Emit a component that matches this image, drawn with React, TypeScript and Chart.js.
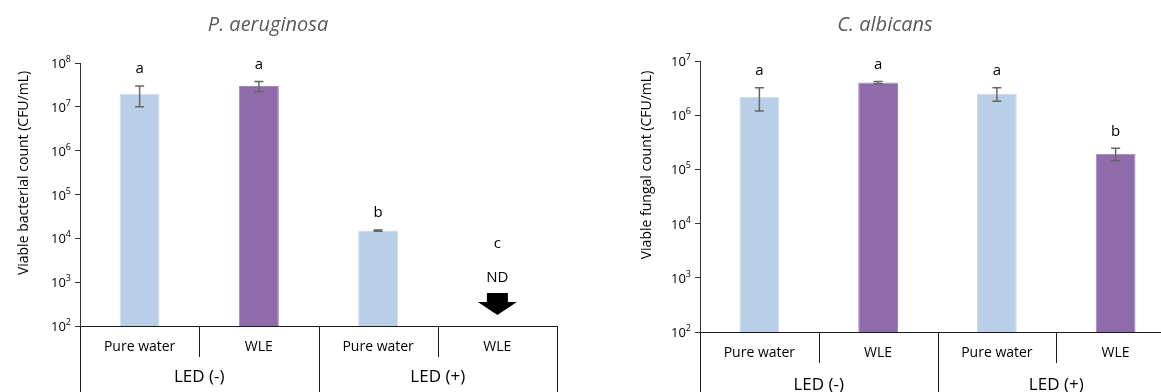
import { useEffect, useRef } from "react";
import { Chart, registerables } from "chart.js";

Chart.register(...registerables);

// Shared categories: two treatments under two LED conditions
const categories = ["Pure water", "WLE", "Pure water", "WLE"];
const groupLabels = ["LED (-)", "LED (+)"];
const barColors = ["#B9CFE7", "#8F6BAB", "#B9CFE7", "#8F6BAB"];
const barEdges = ["#CCDCEE", "#A287BB", "#CCDCEE", "#A287BB"];

// P. aeruginosa (CFU/mL); null = not detected
const bacteriaMeans = [2.0e7, 3.0e7, 1.5e4, null];
const bacteriaSD = [1.0e7, 0.8e7, 0.04e4, null];
const bacteriaLetters = ["a", "a", "b", "c"];
const bacteriaTicks = [1e2, 1e3, 1e4, 1e5, 1e6, 1e7, 1e8];

// C. albicans (CFU/mL)
const fungiMeans = [2.2e6, 4.0e6, 2.5e6, 1.95e5];
const fungiSD = [1.0e6, 0.2e6, 0.7e6, 0.5e5];
const fungiLetters = ["a", "a", "a", "b"];
const fungiTicks = [1e2, 1e3, 1e4, 1e5, 1e6, 1e7];

const FONT = "'Open Sans', sans-serif";
const TEXT = "#000000";
const AXIS = "#333333";

type Panel = {
  title: string;
  titleX: number;
  yTitle: string;
  yTitleX: number;
  yTitleY: number;
  means: (number | null)[];
  sds: (number | null)[];
  letters: string[];
  ticks: number[];
  canvasLeft: number;
  canvasWidth: number;
  axisWidth: number;
  top: number;
  right: number;
  xHeight: number;
  labelOffset: number;
  groupOffset: number;
  dividerLen: number;
};

const panels: Panel[] = [
  {
    title: "P. aeruginosa",
    titleX: 268,
    yTitle: "Viable bacterial count (CFU/mL)",
    yTitleX: 24,
    yTitleY: 173,
    means: bacteriaMeans,
    sds: bacteriaSD,
    letters: bacteriaLetters,
    ticks: bacteriaTicks,
    canvasLeft: 0,
    canvasWidth: 580,
    axisWidth: 80,
    top: 63,
    right: 23,
    xHeight: 66,
    labelOffset: 21,
    groupOffset: 51,
    dividerLen: 31,
  },
  {
    title: "C. albicans",
    titleX: 285,
    yTitle: "Viable fungal count (CFU/mL)",
    yTitleX: 47,
    yTitleY: 165,
    means: fungiMeans,
    sds: fungiSD,
    letters: fungiLetters,
    ticks: fungiTicks,
    canvasLeft: 600,
    canvasWidth: 590,
    axisWidth: 100,
    top: 61,
    right: 15,
    xHeight: 60,
    labelOffset: 21,
    groupOffset: 53,
    dividerLen: 31,
  },
];

function makeDecor(p: Panel) {
  return {
    id: "panelDecor",
    afterDatasetsDraw(chart: any) {
      const ctx = chart.ctx as CanvasRenderingContext2D;
      const x = chart.scales.x;
      const y = chart.scales.y;
      const area = chart.chartArea;
      ctx.save();
      p.means.forEach((m, i) => {
        const cx = x.getPixelForValue(i);
        if (m == null) {
          // not detected: letter, "ND" and a downward arrow
          ctx.fillStyle = TEXT;
          ctx.textAlign = "center";
          ctx.textBaseline = "middle";
          ctx.font = `15px ${FONT}`;
          ctx.fillText(p.letters[i], cx, area.bottom - 82);
          ctx.fillText("ND", cx, area.bottom - 48);
          const t = area.bottom - 33;
          const h = area.bottom - 24;
          const tip = area.bottom - 11;
          ctx.fillStyle = "#000";
          ctx.beginPath();
          ctx.moveTo(cx - 10.5, t);
          ctx.lineTo(cx + 10.5, t);
          ctx.lineTo(cx + 10.5, h);
          ctx.lineTo(cx + 19.5, h);
          ctx.lineTo(cx, tip);
          ctx.lineTo(cx - 19.5, h);
          ctx.lineTo(cx - 10.5, h);
          ctx.closePath();
          ctx.fill();
          return;
        }
        const sd = p.sds[i] ?? 0;
        const yTop = y.getPixelForValue(m + sd);
        const yBot = y.getPixelForValue(Math.max(m - sd, 1e-9));
        ctx.strokeStyle = "#666666";
        ctx.lineWidth = 1.5;
        ctx.beginPath();
        ctx.moveTo(cx, yTop);
        ctx.lineTo(cx, yBot);
        ctx.moveTo(cx - 4.5, yTop);
        ctx.lineTo(cx + 4.5, yTop);
        ctx.moveTo(cx - 4.5, yBot);
        ctx.lineTo(cx + 4.5, yBot);
        ctx.stroke();
        ctx.fillStyle = TEXT;
        ctx.textAlign = "center";
        ctx.textBaseline = "middle";
        ctx.font = `15px ${FONT}`;
        ctx.fillText(p.letters[i], cx, yTop - 17);
      });
      ctx.restore();
    },
    afterDraw(chart: any) {
      const ctx = chart.ctx as CanvasRenderingContext2D;
      const x = chart.scales.x;
      const y = chart.scales.y;
      const area = chart.chartArea;
      const H = chart.height;
      ctx.save();

      // title
      ctx.fillStyle = "#595959";
      ctx.font = `italic 20px ${FONT}`;
      ctx.textAlign = "center";
      ctx.textBaseline = "middle";
      ctx.fillText(p.title, p.titleX, 25);

      // y tick labels as powers of ten
      ctx.fillStyle = TEXT;
      ctx.textBaseline = "alphabetic";
      ctx.textAlign = "left";
      p.ticks.forEach((v) => {
        const exp = String(Math.round(Math.log10(v)));
        const py = y.getPixelForValue(v);
        ctx.font = `9px ${FONT}`;
        const supW = ctx.measureText(exp).width;
        ctx.font = `13px ${FONT}`;
        const baseW = ctx.measureText("10").width;
        const right = area.left - 9;
        ctx.fillText("10", right - supW - baseW, py + 5);
        ctx.font = `9px ${FONT}`;
        ctx.fillText(exp, right - supW, py - 1);
      });

      // y axis title
      ctx.save();
      ctx.translate(p.yTitleX, p.yTitleY);
      ctx.rotate(-Math.PI / 2);
      ctx.font = `14px ${FONT}`;
      ctx.textAlign = "center";
      ctx.textBaseline = "middle";
      ctx.fillText(p.yTitle, 0, 0);
      ctx.restore();

      // two-level category axis
      const n = categories.length;
      const step = (area.right - area.left) / n;
      ctx.strokeStyle = "#1a1a1a";
      ctx.lineWidth = 1;
      for (let k = 0; k <= n; k++) {
        const bx = Math.round(area.left + k * step) + 0.5;
        const full = k % 2 === 0;
        ctx.beginPath();
        ctx.moveTo(bx, area.bottom);
        ctx.lineTo(bx, full ? H : area.bottom + p.dividerLen);
        ctx.stroke();
      }
      ctx.fillStyle = TEXT;
      ctx.textAlign = "center";
      ctx.textBaseline = "middle";
      ctx.font = `14px ${FONT}`;
      categories.forEach((c, i) => {
        ctx.fillText(c, x.getPixelForValue(i), area.bottom + p.labelOffset);
      });
      ctx.font = `17px ${FONT}`;
      groupLabels.forEach((g, j) => {
        const gx = area.left + (j * 2 + 1) * step;
        ctx.fillText(g, gx, area.bottom + p.groupOffset);
      });
      ctx.restore();
    },
  };
}

function PanelChart({ p }: { p: Panel }) {
  const ref = useRef<HTMLCanvasElement>(null);
  useEffect(() => {
    const canvas = ref.current;
    if (!canvas) return;
    const chart = new Chart(canvas, {
      type: "bar",
      data: {
        labels: categories,
        datasets: [
          {
            data: p.means as any,
            backgroundColor: barColors,
            borderColor: barEdges,
            borderWidth: 1,
            barPercentage: 0.335,
            categoryPercentage: 1,
          },
        ],
      },
      options: {
        responsive: false,
        animation: false,
        devicePixelRatio: 1,
        layout: { padding: { top: p.top, right: p.right, left: 0, bottom: 0 } },
        plugins: { legend: { display: false }, tooltip: { enabled: false }, title: { display: false } },
        scales: {
          x: {
            type: "category",
            ticks: { display: false },
            grid: { display: false },
            border: { display: true, color: "#1a1a1a", width: 1 },
            afterFit: (s: any) => {
              s.height = p.xHeight;
            },
          },
          y: {
            type: "logarithmic",
            min: p.ticks[0],
            max: p.ticks[p.ticks.length - 1],
            ticks: { display: false },
            grid: { display: true, drawOnChartArea: false, drawTicks: true, tickLength: 5, color: AXIS },
            border: { display: true, color: AXIS, width: 1 },
            afterBuildTicks: (s: any) => {
              s.ticks = p.ticks.map((v) => ({ value: v }));
            },
            afterFit: (s: any) => {
              s.width = p.axisWidth;
            },
          },
        },
      } as any,
      plugins: [makeDecor(p)],
    });
    return () => chart.destroy();
  }, [p]);
  return (
    <canvas
      ref={ref}
      width={p.canvasWidth}
      height={392}
      style={{ position: "absolute", left: p.canvasLeft, top: 0, width: p.canvasWidth, height: 392 }}
    />
  );
}

export default function App() {
  return (
    <div
      style={{
        position: "absolute",
        left: 0,
        top: 0,
        width: 1161,
        height: 392,
        overflow: "hidden",
        background: "#fff",
      }}
    >
      {panels.map((p) => (
        <PanelChart key={p.title} p={p} />
      ))}
    </div>
  );
}
